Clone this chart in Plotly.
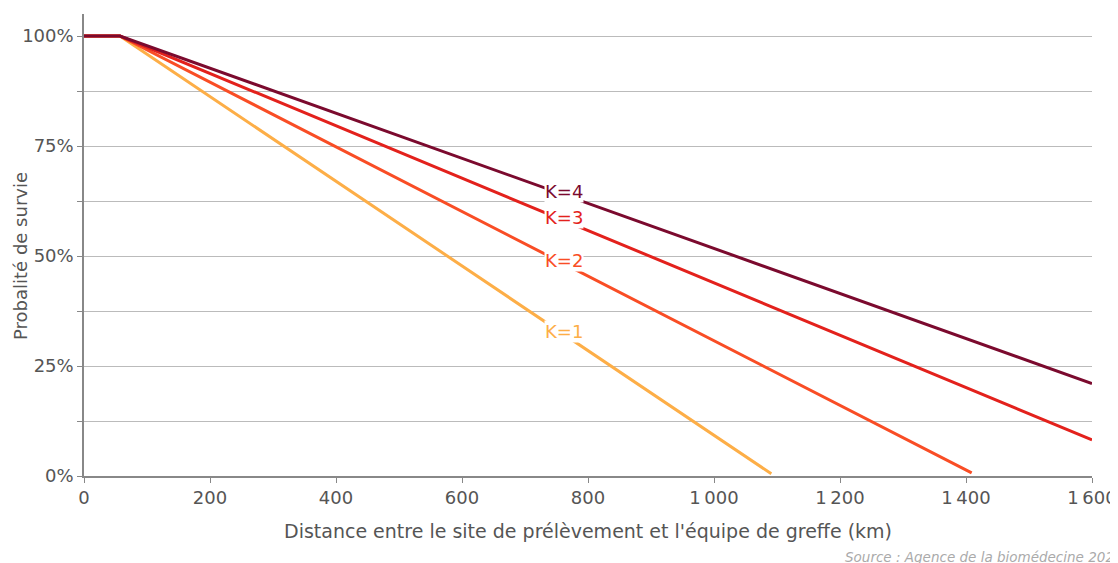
import numpy as np
import plotly.graph_objects as go

# Data
series_names = ["K=1", "K=2", "K=3", "K=4"]
dist_k1 = [0, 57, 1091]
surv_k1 = [100, 100, 0.5]
dist_k2 = [0, 57, 1409]
surv_k2 = [100, 100, 0.7]
dist_k3 = [0, 57, 1600]
surv_k3 = [100, 100, 8.2]
dist_k4 = [0, 57, 1600]
surv_k4 = [100, 100, 21.0]
colors = ["#fdae47", "#f94d25", "#e3211c", "#7b0a2e"]
label_x = [762, 762, 762, 762]

x_tickvals = [0, 200, 400, 600, 800, 1000, 1200, 1400, 1600]
x_ticktext = ["0", "200", "400", "600", "800", "1\u2009000", "1\u2009200", "1\u2009400", "1\u2009600"]
y_tickvals = [0, 12.5, 25, 37.5, 50, 62.5, 75, 87.5, 100]
y_ticktext = ["0%", "", "25%", "", "50%", "", "75%", "", "100%"]

FONT = "DejaVu Sans"
xs = [dist_k1, dist_k2, dist_k3, dist_k4]
ys = [surv_k1, surv_k2, surv_k3, surv_k4]

fig = go.Figure()
for name, x, y, c in zip(series_names, xs, ys, colors):
    fig.add_trace(go.Scatter(x=x, y=y, mode="lines", name=name,
                             line=dict(color=c, width=3), hoverinfo="skip"))

for name, x, y, c, lx in zip(series_names, xs, ys, colors, label_x):
    ly = float(np.interp(lx, x, y))
    fig.add_annotation(x=lx, y=ly, text=name, showarrow=False,
                       font=dict(family=FONT, size=18, color=c),
                       bgcolor="white", borderpad=0, yshift=3,
                       xanchor="center", yanchor="middle")

fig.add_annotation(xref="paper", yref="paper", x=0.753, y=-0.175,
                   text="Source : Agence de la biomédecine 2022",
                   showarrow=False, xanchor="left", yanchor="middle",
                   font=dict(family=FONT, size=13.5, color="#aaaaaa", style="italic"))

# y-axis title as rotated text
fig.add_annotation(xref="paper", yref="y", x=-0.0635, y=50,
                   text="Probalité de survie", textangle=-90,
                   showarrow=False, xanchor="center", yanchor="middle",
                   font=dict(family=FONT, size=18, color="#555555"))

fig.update_layout(
    width=1110, height=555,
    margin=dict(l=76, r=26, t=6, b=87),
    paper_bgcolor="white", plot_bgcolor="white",
    showlegend=False,
    font=dict(family=FONT, size=18, color="#555555"),
    xaxis=dict(range=[0, 1600], tickvals=x_tickvals, ticktext=x_ticktext,
               automargin=False,
               showgrid=False, zeroline=False,
               showline=True, linecolor="#888888", linewidth=1.5,
               ticks="outside", ticklen=5, tickcolor="#888888",
               tickfont=dict(size=18, color="#555555"),
               title=dict(text="Distance entre le site de prélèvement et l'équipe de greffe (km)",
                          font=dict(size=19, color="#555555"), standoff=17)),
    yaxis=dict(range=[0, 105], tickvals=y_tickvals, ticktext=y_ticktext,
               automargin=False,
               showgrid=True, gridcolor="#bbbbbb", gridwidth=1,
               zeroline=False,
               showline=True, linecolor="#888888", linewidth=1.5,
               ticks="outside", ticklen=5, tickcolor="#888888",
               tickfont=dict(size=18, color="#555555")),
)

fig.write_html("out.html")
